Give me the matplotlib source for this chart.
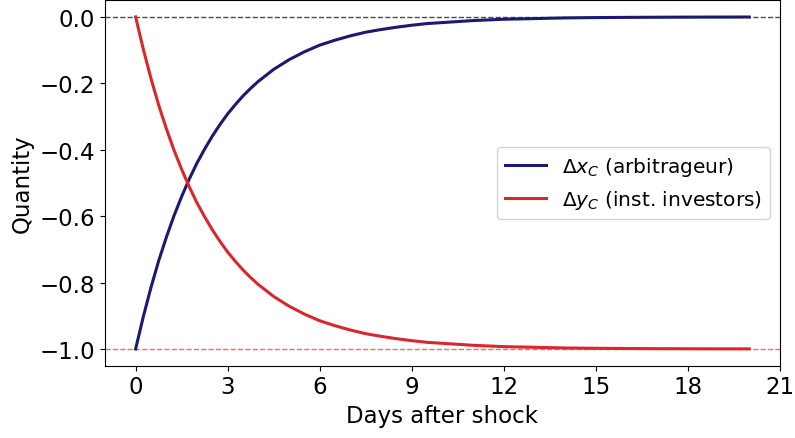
import matplotlib
matplotlib.use("Agg")
import matplotlib.pyplot as plt

# Position changes after the shock, sampled through time (days)
days = [0, 0.25, 0.5, 0.75, 1, 1.25, 1.5, 1.75, 2, 2.25, 2.5, 2.75, 3,
        3.25, 3.5, 3.75, 4, 4.5, 5, 5.5, 6, 6.5, 7, 7.5, 8, 8.5, 9, 9.5,
        10, 11, 12, 13, 14, 15, 16, 17, 18, 19, 20]
dx_arb = [-1.0, -0.903, -0.815, -0.735, -0.664, -0.599, -0.541, -0.488,
          -0.440, -0.398, -0.359, -0.324, -0.292, -0.264, -0.238, -0.215,
          -0.194, -0.158, -0.129, -0.105, -0.085, -0.070, -0.057, -0.046,
          -0.038, -0.031, -0.025, -0.020, -0.017, -0.011, -0.007, -0.005,
          -0.003, -0.002, -0.0014, -0.0009, -0.0006, -0.0004, -0.0003]
dy_inst = [0.0, -0.097, -0.185, -0.265, -0.336, -0.401, -0.459, -0.512,
           -0.560, -0.602, -0.641, -0.676, -0.708, -0.736, -0.762, -0.785,
           -0.806, -0.842, -0.871, -0.895, -0.915, -0.930, -0.943, -0.954,
           -0.962, -0.969, -0.975, -0.980, -0.983, -0.989, -0.993, -0.995,
           -0.997, -0.998, -0.9986, -0.9991, -0.9994, -0.9996, -0.9997]
xticks = [0, 3, 6, 9, 12, 15, 18, 21]
yticks = [0.0, -0.2, -0.4, -0.6, -0.8, -1.0]

plt.rcParams["font.size"] = 16.5

fig, ax = plt.subplots(figsize=(7.95, 4.39), dpi=100)
fig.subplots_adjust(left=0.132, right=0.981, top=0.997, bottom=0.165)

ax.axhline(0.0, color="black", linestyle="--", linewidth=1.0, alpha=0.7)
ax.axhline(-1.0, color="#e8474f", linestyle="--", linewidth=1.0, alpha=0.8)

ax.plot(days, dx_arb, color="#1a1a6e", linewidth=2.2,
        label=r"$\Delta x_C$ (arbitrageur)")
ax.plot(days, dy_inst, color="#d9272c", linewidth=2.2,
        label=r"$\Delta y_C$ (inst. investors)")

ax.set_xlim(-1, 21)
ax.set_ylim(-1.05, 0.05)
ax.set_xticks(xticks)
ax.set_yticks(yticks)
ax.set_xlabel("Days after shock")
ax.set_ylabel("Quantity")
ax.legend(loc="center right", fontsize=14.5)

fig.savefig("out.png", dpi=100)
